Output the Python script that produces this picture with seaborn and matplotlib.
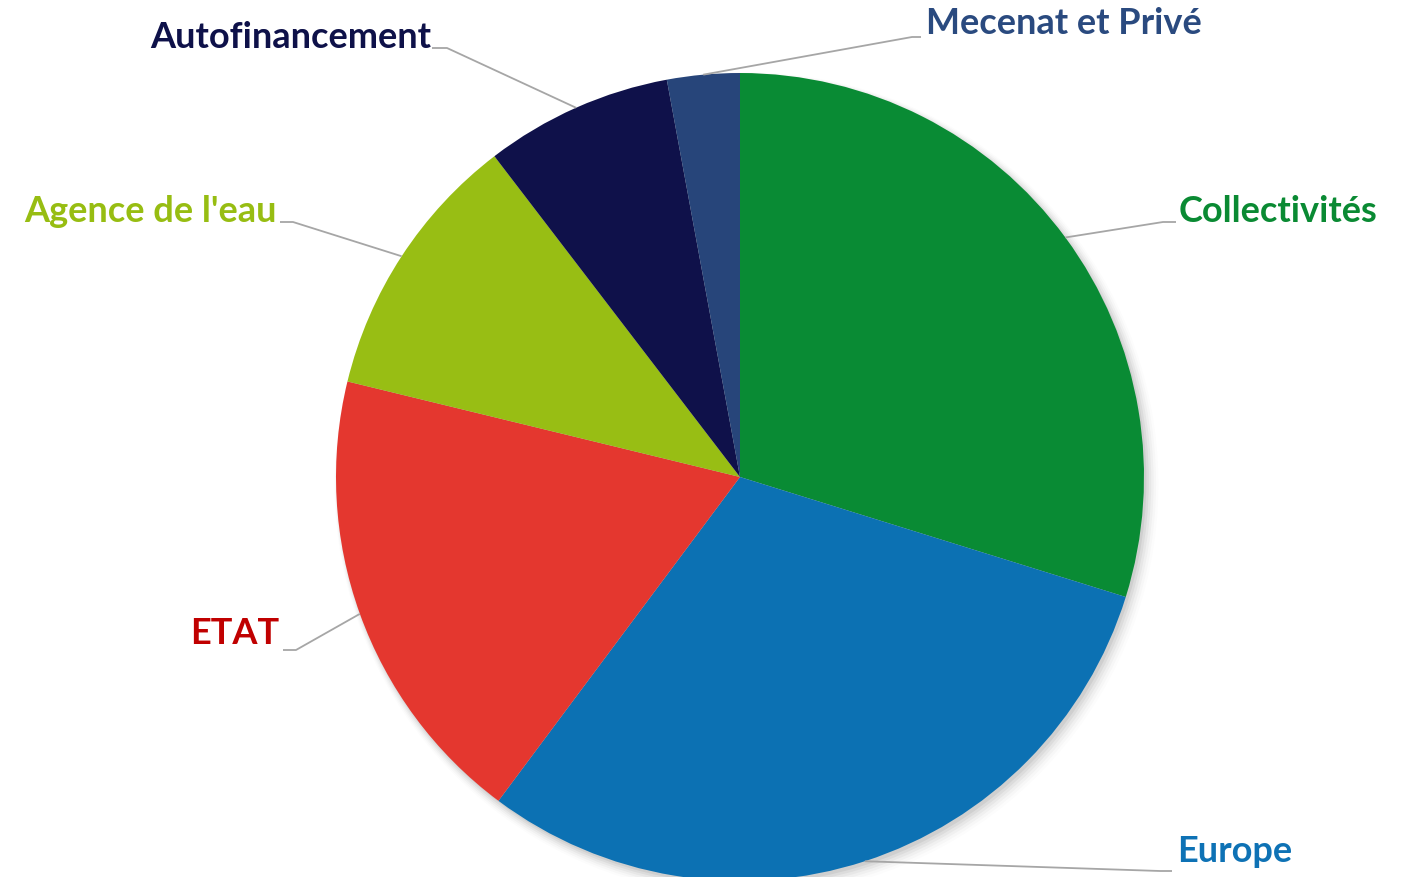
import numpy as np
import matplotlib
matplotlib.use("Agg")
import matplotlib.pyplot as plt
import seaborn as sns

# ---- data ----
categories = ["Collectivités", "Europe", "ETAT", "Agence de l'eau", "Autofinancement", "Mecenat et Privé"]
values = [29.8, 30.4, 18.6, 10.8, 7.5, 2.9]
wedge_colors = ["#098B34", "#0C71B3", "#E4372F", "#98BE14", "#0F114A", "#27457A"]
label_colors = ["#0A8A33", "#0E72B5", "#C00000", "#97BD12", "#0E1149", "#2A4A7F"]

sns.set_theme(style="white")
plt.rcParams['font.family'] = ['Lato', 'DejaVu Sans']

W, H = 1404, 877
fig = plt.figure(figsize=(W / 100, H / 100), dpi=100)
ax = fig.add_axes([0, 0, 1, 1])

# pixel layout: pie centre and radius
CX, CY, R = 740, 477, 404


def p2d(px, py):
    return (px - CX) / R, (CY - py) / R


# soft shadow
for i, a in enumerate(np.linspace(0.05, 0.012, 6)):
    c = plt.Circle((0.006 + i * 0.002, -0.008 - i * 0.002), 1.0 + i * 0.004, color="black",
                   alpha=a, lw=0, zorder=0)
    ax.add_patch(c)

wedges, _ = ax.pie(values, colors=wedge_colors, startangle=90, counterclock=False,
                   radius=1.0, wedgeprops=dict(linewidth=0), center=(0, 0))
for w in wedges:
    w.set_zorder(2)

ax.set_xlim((0 - CX) / R, (W - CX) / R)
ax.set_ylim((CY - H) / R, CY / R)
ax.set_aspect('equal', adjustable='datalim')
ax.set_axis_off()

# label layout in pixels: (elbow, end, text x, text y, ha)
layout = {
    "Collectivités": ((1163, 222), (1176, 222), 1179, 211, "left"),
    "Europe": ((1160, 871), (1172, 871), 1177, 852, "left"),
    "ETAT": ((296, 650), (283, 650), 279, 634, "right"),
    "Agence de l'eau": ((293, 222), (280, 222), 277, 211, "right"),
    "Autofinancement": ((447, 48), (432, 48), 431, 37, "right"),
    "Mecenat et Privé": ((912, 37), (921, 37), 926, 24, "left"),
}

for w, cat, lc in zip(wedges, categories, label_colors):
    ang = np.deg2rad((w.theta1 + w.theta2) / 2)
    sx, sy = np.cos(ang), np.sin(ang)
    elbow, end, tx, ty, ha = layout[cat]
    ex, ey = p2d(*elbow)
    nx, ny = p2d(*end)
    ax.plot([sx, ex, nx], [sy, ey, ny], color="#A6A6A6", lw=1.3, zorder=3,
            solid_capstyle="butt")
    x, y = p2d(tx, ty)
    ax.text(x, y, cat, ha=ha, va="center", color=lc, fontsize=26, fontweight="bold", zorder=4)

fig.savefig("out.png", dpi=100, facecolor="white")
